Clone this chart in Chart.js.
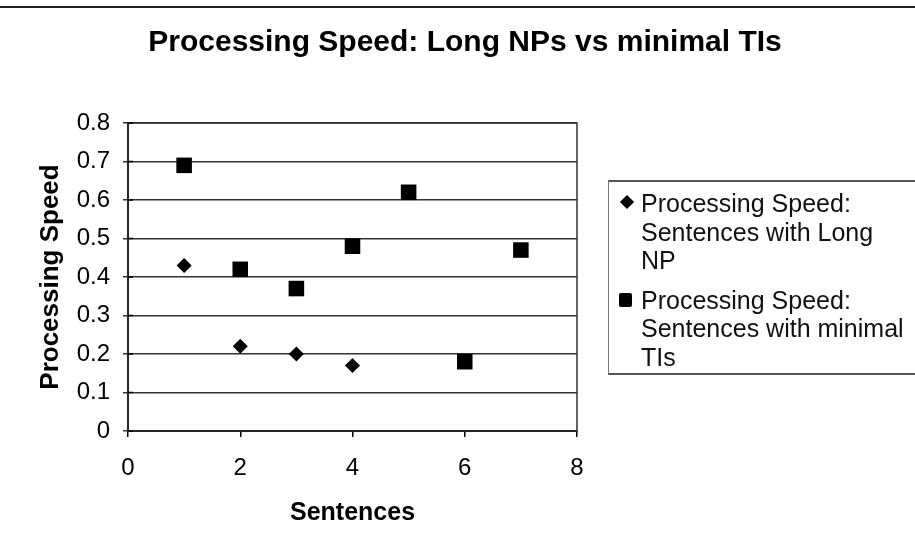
<!DOCTYPE html>
<html>
<head>
<meta charset="utf-8">
<script src="https://cdn.jsdelivr.net/npm/chart.js@4"></script>
<style>
  body { margin: 0; background: #fff; }
  #wrap { position: relative; width: 915px; height: 551px; font-family: 'Liberation Sans', Arial, sans-serif; }
  #topLine { position: absolute; left: 0; top: 6px; width: 915px; border-top: 2px solid #222; }
  #legendBox {
    position: absolute; left: 608px; top: 180px; width: 307px; height: 195px;
    border-top: 2px solid #555; border-bottom: 2px solid #555; border-left: 1px solid #777;
    box-sizing: border-box; font-size: 25px; line-height: 28.5px; color: #111;
  }
  .item { position: relative; padding-left: 32px; }
  .item + .item { margin-top: 11px; }
  .item.first { margin-top: 7px; }
  .mark { position: absolute; background: #000; }
  .diamond { left: 13px; top: 8px; width: 10px; height: 10px; transform: rotate(45deg); }
  .square { left: 10px; top: 7px; width: 13px; height: 14px; border-radius: 2px; }
</style>
</head>
<body>
<div id="wrap">
  <canvas id="speedChart" width="915" height="551"></canvas>
  <div id="topLine"></div>
  <div id="legendBox">
    <div class="item first"><span class="mark diamond"></span>Processing Speed:<br>Sentences with Long<br>NP</div>
    <div class="item"><span class="mark square"></span>Processing Speed:<br>Sentences with minimal<br>TIs</div>
  </div>
</div>
<script>
const sentences = [1, 2, 3, 4, 5, 6, 7]
const longNP = [0.43, 0.22, 0.20, 0.17]
const minimalTIs = [0.69, 0.42, 0.37, 0.48, 0.62, 0.18, 0.47]
const xTicks = [0, 2, 4, 6, 8]
const yTicks = [0, 0.1, 0.2, 0.3, 0.4, 0.5, 0.6, 0.7, 0.8]

const fontFamily = "'Liberation Sans', Arial, sans-serif"

function toPoints(values) {
    return values.map(function(v, i) { return {x: sentences[i], y: v} })
}

// frame round the plot area, plus the small inner part of the y tick marks
const plotFrame = {
    id: 'plotFrame',
    afterDraw(chart) {
        const {ctx, chartArea} = chart
        const yScale = chart.scales.y
        ctx.save()
        ctx.strokeStyle = '#333'
        ctx.lineWidth = 1.5
        ctx.strokeRect(chartArea.left, chartArea.top, chartArea.right - chartArea.left, chartArea.bottom - chartArea.top)
        ctx.strokeStyle = '#000'
        yTicks.forEach(function(v) {
            const py = yScale.getPixelForValue(v)
            ctx.beginPath()
            ctx.moveTo(chartArea.left, py)
            ctx.lineTo(chartArea.left + 5, py)
            ctx.stroke()
        })
        ctx.restore()
    }
}

const scatter_data = {
    datasets: [{
        label: 'Processing Speed: Sentences with Long NP',
        data: toPoints(longNP),
        pointStyle: 'rectRot',
        pointRadius: 7.5,
        backgroundColor: '#000',
        borderColor: '#000',
        borderWidth: 0
    }, {
        label: 'Processing Speed: Sentences with minimal TIs',
        data: toPoints(minimalTIs),
        pointStyle: 'rect',
        pointRadius: 11,
        backgroundColor: '#000',
        borderColor: '#000',
        borderWidth: 0
    }]
}

const config_scatter = {
    type: 'scatter',
    data: scatter_data,
    plugins: [plotFrame],
    options: {
        responsive: false,
        animation: false,
        layout: {padding: {left: 15, right: 0, top: 0, bottom: 0}},
        plugins: {
            legend: {display: false},
            tooltip: {enabled: false},
            title: {
                display: true,
                text: 'Processing Speed: Long NPs vs minimal TIs',
                color: '#000',
                font: {family: fontFamily, size: 30, weight: 'bold'},
                padding: {top: 25, bottom: 62}
            }
        },
        scales: {
            x: {
                type: 'linear',
                min: 0,
                max: 8,
                afterBuildTicks: function(axis) { axis.ticks = xTicks.map(function(v) { return {value: v} }) },
                afterFit: function(axis) { axis.height = 120 },
                border: {color: '#000', width: 2},
                grid: {drawOnChartArea: false, drawTicks: true, tickLength: 6, color: '#000', lineWidth: 1.5},
                ticks: {color: '#000', padding: 17, font: {family: fontFamily, size: 24}},
                title: {
                    display: true,
                    text: 'Sentences',
                    color: '#000',
                    font: {family: fontFamily, size: 25, weight: 'bold'},
                    padding: {top: 0, bottom: 23}
                }
            },
            y: {
                min: 0,
                max: 0.8,
                afterBuildTicks: function(axis) { axis.ticks = yTicks.map(function(v) { return {value: v} }) },
                afterFit: function(axis) { axis.width = 113 },
                border: {color: '#000', width: 2},
                grid: {color: '#333', lineWidth: 1.5, drawTicks: true, tickLength: 5},
                ticks: {color: '#000', padding: 13, font: {family: fontFamily, size: 24}},
                title: {
                    display: true,
                    text: 'Processing Speed',
                    color: '#000',
                    font: {family: fontFamily, size: 26, weight: 'bold'},
                    padding: {top: 20, bottom: 0}
                }
            },
            // empty space on the right where the legend sits
            spacer: {
                type: 'linear',
                position: 'right',
                display: true,
                grid: {display: false},
                border: {display: false},
                ticks: {display: false},
                afterFit: function(axis) { axis.width = 338 }
            }
        }
    }
}

new Chart(document.getElementById('speedChart'), config_scatter)
</script>
</body>
</html>
